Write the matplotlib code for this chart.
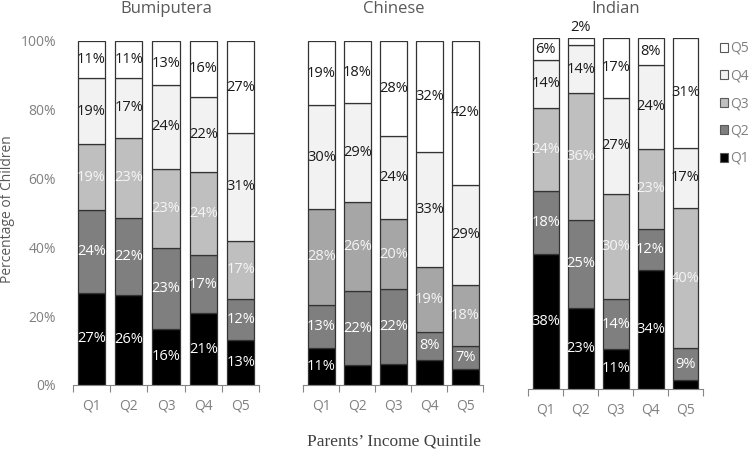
import matplotlib
matplotlib.use("Agg")
import matplotlib.pyplot as plt
from matplotlib.patches import Patch
import numpy as np

plt.rcParams['font.family'] = ['Open Sans', 'DejaVu Sans']

parent_quintiles = ['Q1', 'Q2', 'Q3', 'Q4', 'Q5']
child_quintiles = ['Q1', 'Q2', 'Q3', 'Q4', 'Q5']
groups = ['Bumiputera', 'Chinese', 'Indian']

# share of children in each child quintile, by parents' income quintile (Q1..Q5)
bumi_q1 = [26.8, 26.2, 16.4, 20.8, 13.2]
bumi_q2 = [24.0, 22.3, 23.3, 16.9, 11.8]
bumi_q3 = [19.3, 23.4, 23.2, 24.3, 17.0]
bumi_q4 = [19.1, 17.3, 24.2, 21.8, 31.2]
bumi_q5 = [10.8, 10.8, 12.9, 16.2, 26.8]

chinese_q1 = [10.7, 5.7, 6.2, 7.4, 4.6]
chinese_q2 = [12.7, 21.6, 21.6, 7.9, 6.6]
chinese_q3 = [27.7, 25.9, 20.4, 18.9, 18.0]
chinese_q4 = [30.2, 28.7, 24.2, 33.4, 29.0]
chinese_q5 = [18.7, 18.1, 27.6, 32.4, 41.8]

indian_q1 = [38.4, 23.1, 11.3, 33.9, 2.5]
indian_q2 = [18.1, 25.1, 14.2, 11.8, 9.0]
indian_q3 = [23.7, 36.2, 30.2, 22.8, 40.1]
indian_q4 = [13.6, 13.6, 27.4, 23.9, 17.2]
indian_q5 = [6.2, 2.0, 16.9, 7.6, 31.2]

group_series = [
    [bumi_q1, bumi_q2, bumi_q3, bumi_q4, bumi_q5],
    [chinese_q1, chinese_q2, chinese_q3, chinese_q4, chinese_q5],
    [indian_q1, indian_q2, indian_q3, indian_q4, indian_q5],
]

W, H = 750, 451
fig = plt.figure(figsize=(W / 100, H / 100), dpi=100)

# axes rectangles in pixels: left, bottom(from top), width, top(from top)
rects = [
    (72.7, 385.0, 186.6, 41.0),
    (303.3, 385.0, 180.0, 41.0),
    (528.3, 388.7, 174.7, 38.3),
]

q3_colors = ['#bfbfbf', '#a6a6a6', '#bfbfbf']
tick_gray = '#808080'
edge = '#333333'

axes = []
for gi, (l, b, w, t) in enumerate(rects):
    ax = fig.add_axes([l / W, 1 - b / H, w / W, (b - t) / H])
    axes.append(ax)
    colors = ['#000000', '#7f7f7f', q3_colors[gi], '#f2f2f2', '#ffffff']
    label_colors = ['white', 'white', '#f5f5f5', '#1a1a1a', '#1a1a1a']
    x = np.arange(len(parent_quintiles))
    bottom = np.zeros(len(parent_quintiles))
    for si, vals in enumerate(group_series[gi]):
        vals = np.array(vals, dtype=float)
        ax.bar(x, vals, width=0.74, bottom=bottom, color=colors[si],
               edgecolor=edge, linewidth=0.9, zorder=2)
        for xi, v, b0 in zip(x, vals, bottom):
            if si == 0 and v < 8:
                continue
            txt = f"{int(round(v))}%"
            if v < 3:
                ax.text(xi, b0 + v + 3.2, txt, ha='center', va='center',
                        fontsize=10.5, color='#1a1a1a', clip_on=False)
            else:
                ax.text(xi, b0 + v / 2, txt, ha='center', va='center',
                        fontsize=10.5, color=label_colors[si], zorder=3)
        bottom += vals
    ax.set_xlim(-0.5, len(parent_quintiles) - 0.5)
    ax.set_ylim(0, 100)
    for s in ['top', 'right', 'left']:
        ax.spines[s].set_visible(False)
    ax.spines['bottom'].set_color('#868686')
    ax.spines['bottom'].set_linewidth(0.8)
    ax.set_xticks(x)
    ax.set_xticklabels(parent_quintiles, fontsize=10, color=tick_gray)
    ax.set_xticks(np.arange(-0.5, len(parent_quintiles)), minor=True)
    ax.tick_params(axis='x', which='major', length=0, pad=10)
    ax.tick_params(axis='x', which='minor', length=5, width=0.8, color='#868686', direction='out')
    if gi == 0:
        ax.set_yticks(np.arange(0, 101, 20))
        ax.set_yticklabels([f"{v}%" for v in range(0, 101, 20)], fontsize=10, color=tick_gray)
        ax.tick_params(axis='y', length=0, pad=12)
    else:
        ax.set_yticks([])
    fig.text((l + w / 2) / W, 1 - 9 / H, groups[gi], ha='center', va='center',
             fontsize=12, color='#595959')

fig.text(8 / W, 1 - 209 / H, 'Percentage of Children', rotation=90,
         ha='center', va='center', fontsize=10, color='#595959')
fig.text(394 / W, 1 - 441 / H, 'Parents\u2019 Income Quintile', ha='center', va='center',
         fontsize=12.5, color='#404040', family=['Liberation Serif', 'DejaVu Serif'])

handles = []
leg_colors = ['#ffffff', '#f2f2f2', '#bfbfbf', '#7f7f7f', '#000000']
for c, q in zip(leg_colors, child_quintiles[::-1]):
    handles.append(Patch(facecolor=c, edgecolor='#595959', linewidth=0.8, label=q))
fig.legend(handles=handles, loc='upper left', bbox_to_anchor=(720 / W, 1 - 41 / H),
           frameon=False, fontsize=10, handlelength=0.6, handleheight=0.6,
           handletextpad=0.15, labelspacing=0.9, borderpad=0, borderaxespad=0,
           labelcolor=tick_gray)

fig.savefig('out.png', dpi=100)
